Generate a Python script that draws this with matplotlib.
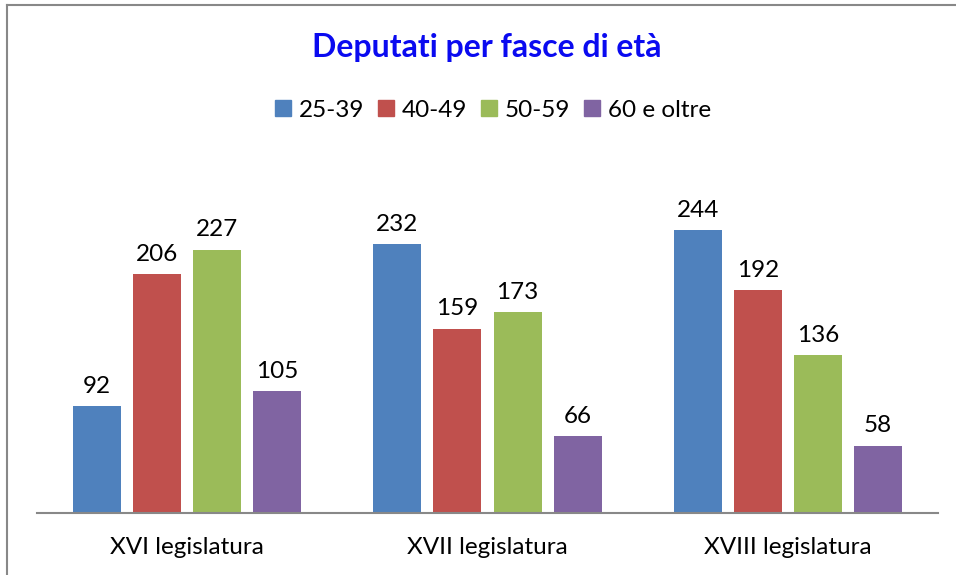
import numpy as np
import matplotlib.pyplot as plt
from matplotlib.lines import Line2D

plt.rcParams['font.family'] = ['Lato', 'DejaVu Sans']

legislature = ['XVI legislatura', 'XVII legislatura', 'XVIII legislatura']
fasce = ['25-39', '40-49', '50-59', '60 e oltre']
valori = {
    '25-39': [92, 232, 244],
    '40-49': [206, 159, 192],
    '50-59': [227, 173, 136],
    '60 e oltre': [105, 66, 58],
}
colori = ['#4F81BD', '#C0504D', '#9BBB59', '#8064A2']

fig = plt.figure(figsize=(9.56, 5.75), dpi=100)
# axes in figure fraction: x 37..938 px, y bottom 513 px
ax = fig.add_axes([37/956, 1 - 513/575, 901/956, 348/575])

x = np.arange(len(legislature))
w = 0.16
step = 0.2
for i, (f, c) in enumerate(zip(fasce, colori)):
    pos = x + (i - 1.5) * step
    ax.bar(pos, valori[f], width=w, color=c, label=f)
    for p, v in zip(pos, valori[f]):
        ax.text(p, v + 8, str(v), ha='center', va='bottom', fontsize=17.5, color='#000000')

ax.set_xlim(-0.5, 2.5)
ax.set_ylim(0, 300)
ax.set_yticks([])
ax.set_xticks(x)
ax.set_xticklabels(legislature, fontsize=17.5)
ax.tick_params(axis='x', length=0, pad=17)
for s in ['top', 'right', 'left']:
    ax.spines[s].set_visible(False)
ax.spines['bottom'].set_color('#888888')
ax.spines['bottom'].set_linewidth(1.5)

fig.text(487/956, 1 - 47/575, 'Deputati per fasce di età', ha='center', va='center',
         fontsize=23, fontweight='bold', color='#0a0af0')

handles = [Line2D([], [], marker='s', linestyle='', markersize=12, color=c) for c in colori]
fig.legend(handles, fasce, loc='center', bbox_to_anchor=(493/956, 1 - 110/575), ncol=4,
           frameon=False, fontsize=17.5, handletextpad=0.3, columnspacing=0.55,
           handlelength=0.7)

# chart border (top and left edges)
fig.add_artist(Line2D([7/956, 1], [1 - 5/575, 1 - 5/575], color='#888888', lw=1.5,
                      transform=fig.transFigure))
fig.add_artist(Line2D([7/956, 7/956], [0, 1 - 5/575], color='#888888', lw=1.5,
                      transform=fig.transFigure))

fig.savefig('out.png', dpi=100)
